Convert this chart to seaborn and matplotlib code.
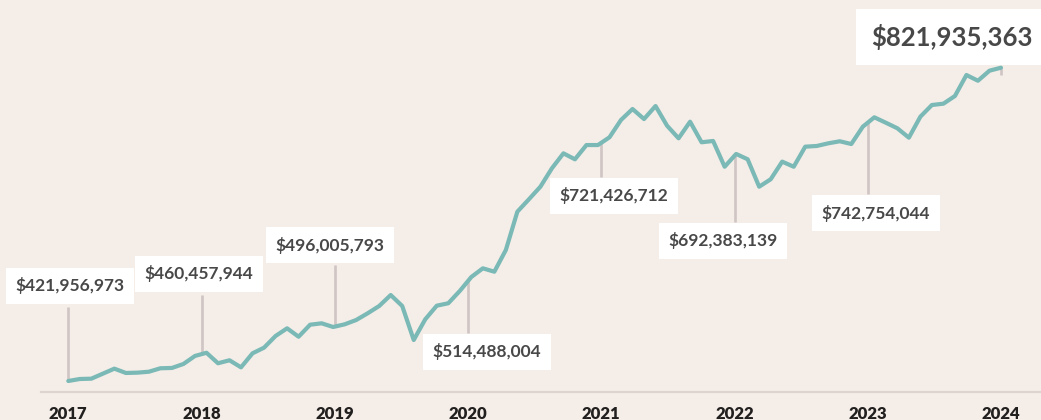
import numpy as np
import pandas as pd
import matplotlib
matplotlib.use("Agg")
import matplotlib.pyplot as plt
import seaborn as sns

# ---- data (values in millions of USD) ----
values_musd = [
    421.96, 424.5, 424.9, 431.3, 437.7, 432.2, 432.6, 433.8, 438.2, 438.6,
    443.7, 453.9, 458.0, 444.6, 448.4, 439.4, 457.3, 464.5, 479.4, 489.2,
    478.5, 493.8, 495.6, 490.9, 494.3, 499.8, 508.4, 517.7, 531.7, 517.7,
    474.3, 500.7, 518.1, 521.2, 536.9, 554.7, 565.8, 561.5, 589.2, 638.1,
    653.9, 670.0, 693.5, 712.6, 705.0, 723.2, 723.2, 733.1, 755.2, 769.2,
    756.4, 773.0, 747.9, 731.8, 753.0, 726.7, 728.4, 695.5, 711.8, 705.0,
    670.0, 679.5, 702.0, 695.5, 721.1, 722.0, 725.4, 728.0, 724.5, 746.6,
    758.6, 751.7, 744.6, 732.6, 759.4, 774.3, 776.0, 785.8, 812.6, 805.3,
    818.1, 821.94,
]
start_year = 2017
end_year = 2024
years = [2017, 2018, 2019, 2020, 2021, 2022, 2023, 2024]
year_labels = ["2017", "2018", "2019", "2020", "2021", "2022", "2023", "2024"]
annot_labels = ["$421,956,973", "$460,457,944", "$496,005,793", "$514,488,004",
                "$721,426,712", "$692,383,139", "$742,754,044", "$821,935,363"]

# ---- layout (pixels) ----
W, H = 1041, 420
label_centers_px = [(70, 286), (199, 274), (330, 245), (487, 352),
                    (614, 196), (723, 241), (876, 213), (952, 37)]
stem_edge_px = [307, 295, 265, 333, 177, 222, 194, 75]

BG = "#f4ede8"
TEAL = "#7ab9b6"
STEM = "#cfc5c4"
TXT = "#484848"

x_pos = np.linspace(start_year, end_year, len(values_musd))
df = pd.DataFrame({"year": x_pos, "value": values_musd})

sns.set_theme(style="white")
plt.rcParams["font.family"] = ["Lato", "DejaVu Sans"]

fig = plt.figure(figsize=(W / 100, H / 100), dpi=100)
fig.patch.set_facecolor(BG)
ax_left, ax_right, ax_bottom_px = 41, 1041, 392
ax = fig.add_axes([ax_left / W, (H - ax_bottom_px) / H,
                   (ax_right - ax_left) / W, ax_bottom_px / H])
ax.set_facecolor(BG)

sns.lineplot(data=df, x="year", y="value", color=TEAL, linewidth=3.0,
             ax=ax, zorder=3)

px_per_year = 133.24
x0_px = 68.3
ax.set_xlim(start_year - (x0_px - ax_left) / px_per_year,
            start_year + (ax_right - x0_px) / px_per_year)
ylo, yhi = 407.9, 908.37
ax.set_ylim(ylo, yhi)

def px_to_val(py):
    return yhi - py * (yhi - ylo) / ax_bottom_px

# stems
for yr, edge in zip(years, stem_edge_px):
    yl = np.interp(yr, x_pos, values_musd)
    ax.vlines(yr, yl, px_to_val(edge), color=STEM, linewidth=1.9, zorder=2)

# labels
for i, (lab, (cx, cy)) in enumerate(zip(annot_labels, label_centers_px)):
    big = i == len(annot_labels) - 1
    fig.text(cx / W, 1 - cy / H, lab, ha="center", va="center",
             fontsize=18.5 if big else 12.5, fontweight="bold", color=TXT,
             bbox=dict(boxstyle="square,pad=%s" % (0.6 if big else 0.55),
                       fc="white", ec="none"), zorder=5)

ax.set_xticks(years)
ax.set_xticklabels(year_labels, fontsize=12, fontweight="heavy", color="#221f1f")
ax.tick_params(axis="x", length=0, pad=10)
ax.set_yticks([])
ax.set_xlabel("")
ax.set_ylabel("")
for s in ["top", "left", "right"]:
    ax.spines[s].set_visible(False)
ax.spines["bottom"].set_color("#ddd3cf")
ax.spines["bottom"].set_linewidth(1.6)

fig.savefig("out.png", dpi=100, facecolor=BG)
